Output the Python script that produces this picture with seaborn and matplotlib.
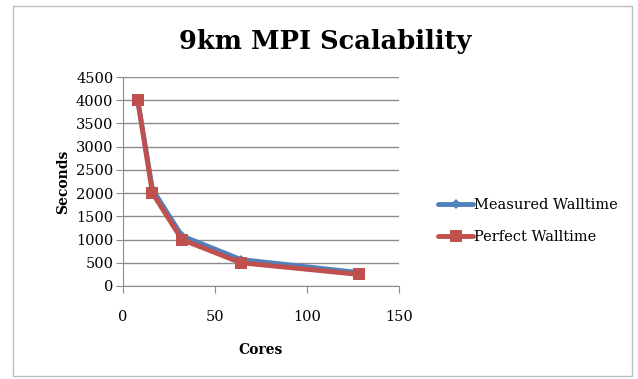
import matplotlib
matplotlib.use("Agg")
import matplotlib.pyplot as plt
import seaborn as sns
import pandas as pd
from matplotlib.patches import Rectangle
from matplotlib.lines import Line2D

cores = [8, 16, 32, 64, 128]
measured = [4000, 2080, 1080, 570, 290]
perfect = [4000, 2000, 1000, 500, 250]
series_names = ["Measured Walltime", "Perfect Walltime"]
x_ticks = [0, 50, 100, 150]
y_ticks = [0, 500, 1000, 1500, 2000, 2500, 3000, 3500, 4000, 4500]

df = pd.DataFrame({
    "Cores": cores * 2,
    "Seconds": measured + perfect,
    "Series": [series_names[0]] * len(cores) + [series_names[1]] * len(cores),
})

sns.set_style("white")
plt.rcParams["font.family"] = ["DejaVu Serif"]
plt.rcParams["text.color"] = "black"
plt.rcParams["axes.labelcolor"] = "black"
plt.rcParams["xtick.labelcolor"] = "black"
plt.rcParams["ytick.labelcolor"] = "black"

fig = plt.figure(figsize=(6.38, 3.79), dpi=100)
ax = fig.add_axes([0.1928, 0.2454, 0.4326, 0.5514])

blue, red = "#4F81BD", "#C0504D"
palette = {series_names[0]: blue, series_names[1]: red}
sns.lineplot(data=df, x="Cores", y="Seconds", hue="Series", style="Series",
             markers={series_names[0]: "D", series_names[1]: "s"},
             dashes=False, palette=palette, linewidth=3.5,
             markersize=7, ax=ax, legend=False)
lines = ax.get_lines()
lines[0].set_markersize(5)
lines[1].set_markersize(9)
for ln in lines:
    ln.set_markeredgewidth(0)

ax.set_xlim(0, 150)
ax.set_ylim(0, 4500)
ax.set_xticks(x_ticks)
ax.set_yticks(y_ticks)
ax.yaxis.grid(True, color="#8c8c8c", linewidth=1)
ax.xaxis.grid(False)
for s in ["top", "right"]:
    ax.spines[s].set_visible(False)
ax.spines["left"].set_color("#8c8c8c")
ax.spines["bottom"].set_color("#8c8c8c")
ax.tick_params(axis="both", which="both", direction="out", length=5, color="#8c8c8c",
               labelsize=10.5)
ax.tick_params(axis="x", pad=12, bottom=True)
ax.tick_params(axis="y", left=True, pad=2)
ax.set_xlabel("Cores", fontsize=10, fontweight="bold", labelpad=14)
ax.set_ylabel("Seconds", fontsize=10, fontweight="bold", labelpad=4)

fig.text(0.51, 0.89, "9km MPI Scalability", ha="center", va="center",
         fontsize=18.5, fontweight="bold")

handles = [Line2D([], [], color=blue, lw=3.5, marker="D", markersize=5, markeredgewidth=0),
           Line2D([], [], color=red, lw=3.5, marker="s", markersize=9, markeredgewidth=0)]
fig.legend(handles, series_names, loc="center left", bbox_to_anchor=(0.687, 0.417),
           frameon=False, fontsize=10.5, handlelength=2.4, handletextpad=0.05,
           labelspacing=1.2, borderaxespad=0, borderpad=0)

fig.patches.append(Rectangle((13 / 638, 3 / 379), 619 / 638, 370 / 379,
                             transform=fig.transFigure, fill=False,
                             edgecolor="#bfbfbf", linewidth=1))

fig.savefig("out.png", dpi=100)
